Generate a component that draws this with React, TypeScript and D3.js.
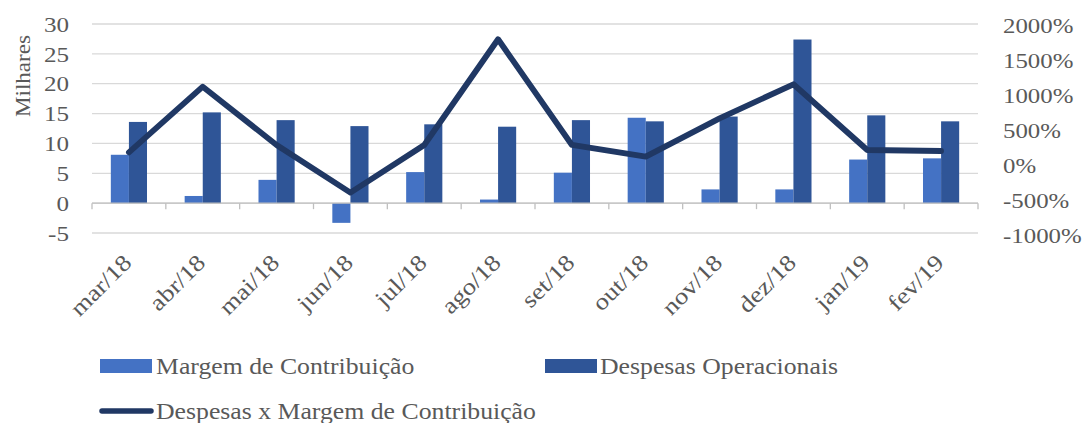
import React from "react";
import * as d3 from "d3";

const categories = ["mar/18","abr/18","mai/18","jun/18","jul/18","ago/18","set/18","out/18","nov/18","dez/18","jan/19","fev/19"];
const margem = [8.1, 1.2, 3.9, -3.3, 5.2, 0.6, 5.1, 14.3, 2.3, 2.3, 7.3, 7.5];
const despesas = [13.6, 15.2, 13.9, 12.9, 13.2, 12.8, 13.9, 13.7, 14.5, 27.4, 14.7, 13.7];
const ratio = [181, 1119, 286, -395, 286, 1796, 286, 119, 667, 1153, 214, 200];
const leftTicks = [-5, 0, 5, 10, 15, 20, 25, 30];
const rightTicks = [-1000, -500, 0, 500, 1000, 1500, 2000];
const legendItems = ["Margem de Contribuição", "Despesas Operacionais", "Despesas x Margem de Contribuição"];

const W = 1082, H = 423;
const FONT = '"Liberation Serif", "Times New Roman", Times, "DejaVu Serif", serif';
const TEXT = "#595959";
const C_LIGHT = "#4472C4";
const C_DARK = "#2F5597";
const C_LINE = "#203864";
const SX = 1.12;

export default function App() {
  const x = d3.scaleBand<string>().domain(categories).range([92, 978]).padding(0);
  const y = d3.scaleLinear().domain([-5, 30]).range([233, 24]);
  const y2 = d3.scaleLinear().domain([-1000, 2000]).range([235, 25]);
  const bw = x.bandwidth() * 0.245;
  const cx = (c: string) => (x(c) as number) + x.bandwidth() / 2;
  const line = d3.line<number>().x((_, i) => cx(categories[i])).y((d) => y2(d));
  const ts: React.CSSProperties = { fontFamily: FONT };

  return (
    <svg width={W} height={H} style={{ position: "absolute", left: 0, top: 0, background: "#fff", fontFamily: FONT }}>
      {leftTicks.map((t) => (
        <line key={"g" + t} x1={92} x2={978} y1={y(t)} y2={y(t)} stroke="#d9d9d9" strokeWidth={1.3} />
      ))}
      {leftTicks.map((t) => (
        <text key={"l" + t} style={ts} transform={`translate(69,${y(t)}) scale(1.14,1)`} dy="0.35em" textAnchor="end" fontSize={22} fill={TEXT}>{t}</text>
      ))}
      {rightTicks.map((t) => (
        <text key={"r" + t} style={ts} transform={`translate(1003,${y2(t)}) scale(1.13,1)`} dy="0.35em" textAnchor="start" fontSize={22} fill={TEXT}>{t + "%"}</text>
      ))}
      <text style={ts} transform="translate(30,76) rotate(-90) scale(1.05,1)" textAnchor="middle" fontSize={22} fill={TEXT}>Milhares</text>
      {categories.map((c, i) => (
        <g key={c}>
          <rect x={cx(c) - bw} y={Math.min(y(margem[i]), y(0))} width={bw} height={Math.abs(y(margem[i]) - y(0))} fill={C_LIGHT} />
          <rect x={cx(c)} y={Math.min(y(despesas[i]), y(0))} width={bw} height={Math.abs(y(despesas[i]) - y(0))} fill={C_DARK} />
        </g>
      ))}
      <line x1={92} x2={978} y1={y(0)} y2={y(0)} stroke="#bfbfbf" strokeWidth={1.3} />
      {[...categories.map((c) => x(c) as number), 978].map((px, i) => (
        <line key={"t" + i} x1={px} x2={px} y1={y(0)} y2={y(0) + 6} stroke="#bfbfbf" strokeWidth={1.3} />
      ))}
      <path d={line(ratio) || ""} fill="none" stroke={C_LINE} strokeWidth={5.8} strokeLinejoin="round" strokeLinecap="round" />
      {categories.map((c) => (
        <text key={"x" + c} style={ts} transform={`translate(${cx(c) + 4},264) rotate(-45) scale(1.16,1)`} textAnchor="end" fontSize={23} fill={TEXT}>{c}</text>
      ))}
      <rect x={100} y={359} width={52} height={14} fill={C_LIGHT} />
      <text style={ts} transform={`translate(156,366) scale(${SX},1)`} dy="0.35em" fontSize={23} fill={TEXT}>{legendItems[0]}</text>
      <rect x={545} y={359} width={52} height={14} fill={C_DARK} />
      <text style={ts} transform={`translate(600,366) scale(${SX},1)`} dy="0.35em" fontSize={23} fill={TEXT}>{legendItems[1]}</text>
      <line x1={102} x2={151} y1={411} y2={411} stroke={C_LINE} strokeWidth={5.5} strokeLinecap="round" />
      <text style={ts} transform={`translate(156,411) scale(${SX},1)`} dy="0.35em" fontSize={23} fill={TEXT}>{legendItems[2]}</text>
    </svg>
  );
}
